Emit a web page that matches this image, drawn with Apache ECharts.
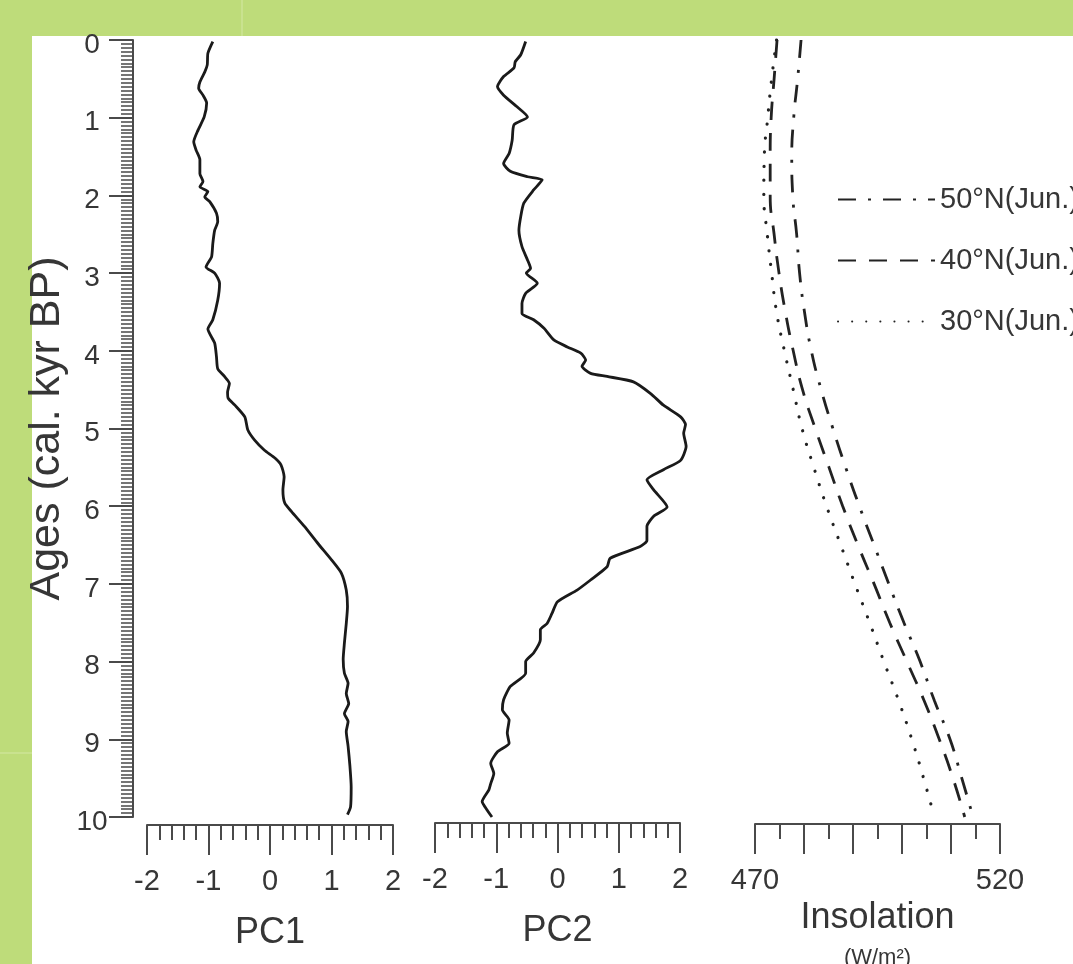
<!DOCTYPE html>
<html>
<head>
<meta charset="utf-8">
<title>PC1, PC2 and June insolation</title>
<script src="https://cdn.jsdelivr.net/npm/echarts@6.0.0/dist/echarts.min.js"></script>
<style>
  html, body { margin: 0; padding: 0; background: #bedc7a; }
  #chart { width: 1073px; height: 964px; }
</style>
</head>
<body>
<div id="chart"></div>
<script>
// PC1 record (age in cal. kyr BP, score)
var pc1Ages = [0.02, 0.17, 0.32, 0.41, 0.54, 0.62, 0.71, 0.81, 0.99, 1.16,
  1.31, 1.42, 1.54, 1.72, 1.82, 1.89, 1.95, 2.02, 2.08, 2.23,
  2.34, 2.45, 2.62, 2.79, 2.92, 3.00, 3.13, 3.35, 3.60, 3.72,
  3.90, 4.08, 4.23, 4.33, 4.42, 4.53, 4.61, 4.70, 4.85, 5.02,
  5.15, 5.28, 5.38, 5.47, 5.62, 5.79, 5.96, 6.07, 6.26, 6.48,
  6.69, 6.86, 7.08, 7.29, 7.51, 7.76, 7.97, 8.15, 8.28, 8.41,
  8.54, 8.67, 8.77, 8.90, 9.09, 9.35, 9.61, 9.87, 9.97];
var pc1Values = [-0.93, -1.01, -1.02, -1.06, -1.14, -1.16, -1.09, -1.03, -1.07, -1.17,
  -1.24, -1.20, -1.14, -1.14, -1.09, -1.14, -1.01, -1.06, -0.98, -0.87,
  -0.85, -0.90, -0.93, -0.95, -1.04, -0.90, -0.82, -0.85, -0.93, -1.01,
  -0.90, -0.87, -0.85, -0.74, -0.66, -0.69, -0.68, -0.57, -0.41, -0.36,
  -0.25, -0.09, 0.08, 0.18, 0.23, 0.21, 0.24, 0.35, 0.56, 0.78,
  1.00, 1.16, 1.24, 1.26, 1.24, 1.21, 1.19, 1.21, 1.27, 1.24,
  1.28, 1.21, 1.27, 1.24, 1.27, 1.30, 1.32, 1.31, 1.26];

// PC2 record
var pc2Ages = [0.02, 0.19, 0.28, 0.36, 0.47, 0.60, 0.71, 0.86, 0.99, 1.09,
  1.29, 1.46, 1.59, 1.69, 1.76, 1.80, 1.93, 2.10, 2.27, 2.45,
  2.66, 2.83, 2.94, 3.00, 3.13, 3.26, 3.39, 3.52, 3.60, 3.71,
  3.86, 3.95, 4.03, 4.12, 4.20, 4.29, 4.33, 4.40, 4.55, 4.70,
  4.85, 4.95, 5.06, 5.23, 5.41, 5.53, 5.66, 5.79, 6.01, 6.13,
  6.26, 6.44, 6.52, 6.67, 6.78, 6.95, 7.08, 7.23, 7.38, 7.51,
  7.59, 7.72, 7.89, 8.00, 8.15, 8.32, 8.49, 8.62, 8.75, 8.92,
  9.05, 9.16, 9.31, 9.44, 9.57, 9.65, 9.80, 9.91, 10.00];
var pc2Values = [-0.52, -0.60, -0.69, -0.71, -0.88, -0.98, -0.88, -0.66, -0.49, -0.71,
  -0.74, -0.79, -0.88, -0.77, -0.49, -0.25, -0.39, -0.55, -0.60, -0.63,
  -0.58, -0.49, -0.44, -0.51, -0.33, -0.52, -0.58, -0.58, -0.39, -0.22,
  -0.06, 0.16, 0.38, 0.46, 0.40, 0.54, 0.81, 1.24, 1.52, 1.73,
  2.01, 2.09, 2.06, 2.10, 2.01, 1.73, 1.46, 1.57, 1.79, 1.57,
  1.46, 1.46, 1.35, 0.86, 0.81, 0.54, 0.32, 0.00, -0.09, -0.17,
  -0.28, -0.28, -0.39, -0.52, -0.52, -0.77, -0.88, -0.90, -0.79, -0.82,
  -0.79, -0.98, -1.09, -1.04, -1.09, -1.12, -1.23, -1.15, -1.07];

// June insolation (W/m2)
var insolAges = [0, 0.5, 1, 1.5, 2, 2.5, 3, 3.5, 4, 4.5, 5, 5.5, 6, 6.5, 7, 7.5, 8, 8.5, 9, 9.5, 10];
var insol50N = [479.4, 478.7, 477.9, 477.5, 477.7, 478.5, 479.1, 480.1, 481.5, 483.5, 485.9,
  488.5, 491.3, 494.3, 497.3, 500.4, 503.7, 506.6, 509.8, 512.2, 514.5];
var insol40N = [474.5, 473.9, 473.3, 473.1, 473.1, 473.9, 474.9, 476.2, 477.8, 479.7, 482.3,
  485.1, 487.9, 491.0, 494.3, 497.5, 501.0, 504.5, 507.6, 510.4, 512.8];
var insol30N = [474.4, 473.4, 472.6, 471.9, 471.8, 472.5, 473.4, 474.4, 476.0, 477.8, 479.6,
  482.0, 484.6, 487.5, 490.4, 493.4, 496.3, 499.3, 502.0, 504.4, 506.6];

var insolNames = ['50°N(Jun.)', '40°N(Jun.)', '30°N(Jun.)'];

var FONT = 'Liberation Sans, Arial, sans-serif';
var AXIS_COLOR = '#4a4a4a';
var TEXT_COLOR = '#363636';

function pairs(ages, vals) {
  return ages.map(function (a, i) { return [vals[i], a]; });
}

function bottomAxis(gridIndex, min, max, interval, minorSplit, offset, name) {
  return {
    type: 'value', gridIndex: gridIndex, position: 'bottom', offset: offset,
    min: min, max: max, interval: interval,
    axisLine: { show: true, onZero: false, lineStyle: { color: AXIS_COLOR, width: 2 } },
    axisTick: { show: true, inside: false, length: 30, lineStyle: { color: AXIS_COLOR, width: 2 } },
    minorTick: { show: true, splitNumber: minorSplit, length: 15, lineStyle: { color: AXIS_COLOR, width: 2 } },
    splitLine: { show: false },
    minorSplitLine: { show: false },
    axisLabel: { show: true, fontSize: 29, color: TEXT_COLOR, fontFamily: FONT, margin: 42,
      showMinLabel: true, showMaxLabel: true, hideOverlap: false },
    name: name, nameLocation: 'middle', nameGap: 90,
    nameTextStyle: { fontSize: 36, color: TEXT_COLOR, fontFamily: FONT }
  };
}

var chart = echarts.init(document.getElementById('chart'), null, { renderer: 'canvas' });

var xPC1 = bottomAxis(0, -2, 2, 1, 5, 8, 'PC1');
var xPC2 = bottomAxis(1, -2, 2, 1, 5, 6, 'PC2');
var xIns = bottomAxis(2, 470, 520, 10, 2, 7, '{a|Insolation}\n{b|(W/m²)}');
xIns.axisLabel.formatter = function (v) { return (v === 470 || v === 520) ? String(v) : ''; };
xIns.nameGap = 60;
xIns.nameTextStyle = {
  color: TEXT_COLOR, fontFamily: FONT,
  rich: {
    a: { fontSize: 36, lineHeight: 40, color: TEXT_COLOR, fontFamily: FONT },
    b: { fontSize: 22, lineHeight: 40, color: TEXT_COLOR, fontFamily: FONT }
  }
};
// PC2 peaks a little past 2, so it is drawn on a slightly wider, hidden grid with the same scale
var xPC2Data = { type: 'value', gridIndex: 3, min: -2, max: 2.4, show: false };

function hiddenY(gridIndex) {
  return { type: 'value', gridIndex: gridIndex, min: 0, max: 10, inverse: true, show: false };
}

var option = {
  backgroundColor: '#bedc7a',
  animation: false,
  textStyle: { fontFamily: FONT },
  graphic: [
    { type: 'rect', z: -10, silent: true, shape: { x: 32, y: 36, width: 1041, height: 928 },
      style: { fill: '#ffffff' } },
    { type: 'line', z: -10, silent: true, shape: { x1: 242, y1: 0, x2: 242, y2: 36 },
      style: { stroke: '#c9e28f', lineWidth: 2 } },
    { type: 'line', z: -10, silent: true, shape: { x1: 0, y1: 753, x2: 32, y2: 753 },
      style: { stroke: '#c9e28f', lineWidth: 2 } }
  ],
  grid: [
    { left: 147, top: 40, width: 246, height: 777, outerBoundsMode: 'none' },
    { left: 435, top: 40, width: 245, height: 777, outerBoundsMode: 'none' },
    { left: 755, top: 40, width: 245, height: 777, outerBoundsMode: 'none' },
    { left: 435, top: 40, width: 245 * 4.4 / 4, height: 777, outerBoundsMode: 'none' }
  ],
  xAxis: [xPC1, xPC2, xIns, xPC2Data],
  yAxis: [
    {
      type: 'value', gridIndex: 0, min: 0, max: 10, interval: 1, inverse: true,
      position: 'left', offset: 14,
      axisLine: { show: true, onZero: false, lineStyle: { color: AXIS_COLOR, width: 2 } },
      axisTick: { show: true, inside: false, length: 24, lineStyle: { color: AXIS_COLOR, width: 2 } },
      minorTick: { show: true, splitNumber: 20, length: 12, lineStyle: { color: AXIS_COLOR, width: 1.5 } },
      splitLine: { show: false },
      axisLabel: { fontSize: 28, color: TEXT_COLOR, fontFamily: FONT, margin: 41, align: 'center',
        verticalAlign: 'top', lineHeight: 10, showMinLabel: true, showMaxLabel: true, hideOverlap: false },
      name: 'Ages (cal. kyr BP)', nameLocation: 'middle', nameGap: 64,
      nameTextStyle: { fontSize: 43, color: TEXT_COLOR, fontFamily: FONT }
    },
    hiddenY(1),
    hiddenY(2),
    hiddenY(3)
  ],
  legend: {
    data: insolNames,
    orient: 'vertical',
    left: 837, top: 185,
    padding: 0,
    itemWidth: 97, itemHeight: 4, itemGap: 32,
    itemStyle: { opacity: 0 },
    textStyle: { fontSize: 29, color: TEXT_COLOR, fontFamily: FONT },
    selectedMode: false
  },
  series: [
    { name: 'PC1', type: 'line', xAxisIndex: 0, yAxisIndex: 0, data: pairs(pc1Ages, pc1Values),
      symbol: 'none', smooth: 0.2, clip: false, lineStyle: { color: '#1a1a1a', width: 2.8 } },
    { name: 'PC2', type: 'line', xAxisIndex: 3, yAxisIndex: 3, data: pairs(pc2Ages, pc2Values),
      symbol: 'none', smooth: 0.2, clip: false, lineStyle: { color: '#1a1a1a', width: 2.8 } },
    { name: insolNames[0], type: 'line', xAxisIndex: 2, yAxisIndex: 2, data: pairs(insolAges, insol50N),
      symbol: 'none', smooth: true, clip: false, itemStyle: { color: '#222' },
      lineStyle: { color: '#222', width: 2.8, type: [18, 12, 3, 12] } },
    { name: insolNames[1], type: 'line', xAxisIndex: 2, yAxisIndex: 2, data: pairs(insolAges, insol40N),
      symbol: 'none', smooth: true, clip: false, itemStyle: { color: '#222' },
      lineStyle: { color: '#222', width: 2.8, type: [18, 13] } },
    { name: insolNames[2], type: 'line', xAxisIndex: 2, yAxisIndex: 2, data: pairs(insolAges, insol30N),
      symbol: 'none', smooth: true, clip: false, itemStyle: { color: '#222' },
      lineStyle: { color: '#222', width: 3.2, type: [0.1, 14], cap: 'round' } }
  ]
};

chart.setOption(option);
</script>
</body>
</html>
